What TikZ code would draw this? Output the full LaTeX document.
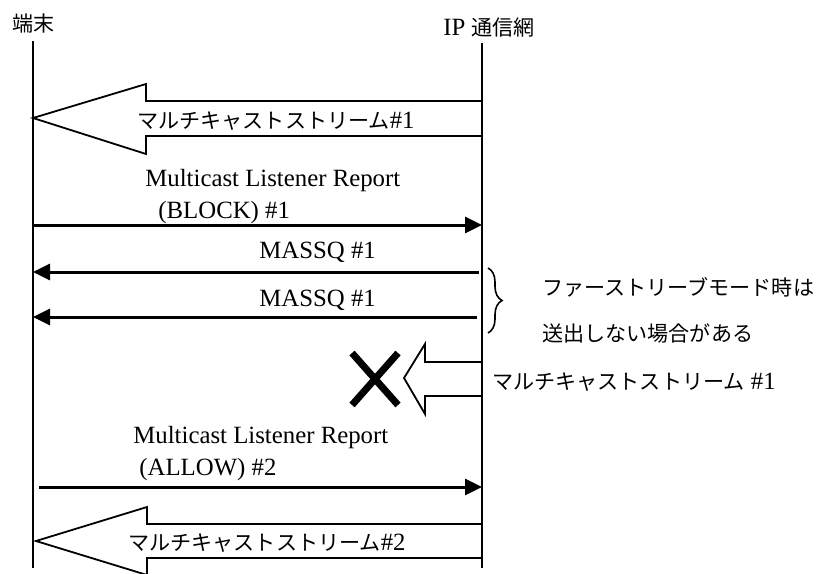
\documentclass[tikz,border=0pt]{standalone}
\usepackage{fontspec}
\setmainfont{Liberation Serif}
\newfontfamily\jp[Scale=0.85]{Noto Sans CJK JP}
\usepackage{tikz}
\usetikzlibrary{arrows.meta, decorations.pathreplacing}

\begin{document}
\begin{tikzpicture}[x=0.5pt, y=-0.5pt,
    life/.style={line width=0.75pt},
    msg/.style={-{Triangle[length=8.5pt, width=8pt]}, line width=1.5pt},
    stream/.style={draw, fill=white, line width=0.9pt, line join=miter},
    lbl/.style={anchor=west, inner sep=0pt, font=\fontsize{12.4}{15}\selectfont}
  ]
    \useasboundingbox (0,0) rectangle (828,573);

    % lifelines
    \node[lbl] (term) at (12,23) {\jp 端末};
    \node[lbl] (net) at (443,28) {IP {\jp 通信網}};
    \coordinate (termTop) at (33,41);
    \coordinate (termBot) at (33,568);
    \coordinate (netTop) at (482,43);
    \coordinate (netBot) at (482,568);
    \draw[life] (termTop) -- (termBot);
    \draw[life] (netTop) -- (netBot);

    % stream #1
    \draw[stream] (482,101) -- (146,101) -- (146,84) -- (33,118)
      -- (146,154) -- (146,136) -- (482,136) -- cycle;
    \node[lbl, anchor=center] (str1) at (276,121) {{\jp マルチキャストストリーム}\#1};

    % report BLOCK
    \node[lbl] (rep1a) at (145,181) {Multicast Listener Report};
    \node[lbl] (rep1b) at (158,213) {(BLOCK) \#1};
    \coordinate (rep1) at (33,225);
    \draw[msg] (rep1) -- (netTop |- rep1);

    % MASSQ
    \node[lbl] (mq1) at (259,252) {MASSQ \#1};
    \coordinate (mq1a) at (479,272);
    \draw[msg] (mq1a) -- (termTop |- mq1a);
    \node[lbl] (mq2) at (259,300) {MASSQ \#1};
    \coordinate (mq2a) at (477,317);
    \draw[msg] (mq2a) -- (termTop |- mq2a);

    \draw[line width=0.8pt, decorate, decoration={brace, amplitude=7pt}]
      (488,268) -- (488,333);
    \node[lbl] (note1) at (542,287) {\jp ファーストリーブモード時は};
    \node[lbl] (note2) at (542,333) {\jp 送出しない場合がある};

    % blocked stream
    \draw[line width=3.5pt] (352,353) -- (398,405);
    \draw[line width=3.5pt] (398,353) -- (352,405);
    \draw[stream] (482,362) -- (425,362) -- (425,344) -- (404,378)
      -- (425,414) -- (425,396) -- (482,396) -- cycle;
    \node[lbl] (str0) at (492,382) {{\jp マルチキャストストリーム} \#1};

    % report ALLOW
    \node[lbl] (rep2a) at (133,438) {Multicast Listener Report};
    \node[lbl] (rep2b) at (139,470) {(ALLOW) \#2};
    \coordinate (rep2) at (39,487);
    \draw[msg] (rep2) -- (netTop |- rep2);

    % stream #2
    \draw[stream] (482,524) -- (147,524) -- (147,507) -- (36,541)
      -- (147,575) -- (147,558) -- (482,558) -- cycle;
    \node[lbl, anchor=center] (str2) at (267,543) {{\jp マルチキャストストリーム}\#2};
\end{tikzpicture}
\end{document}
